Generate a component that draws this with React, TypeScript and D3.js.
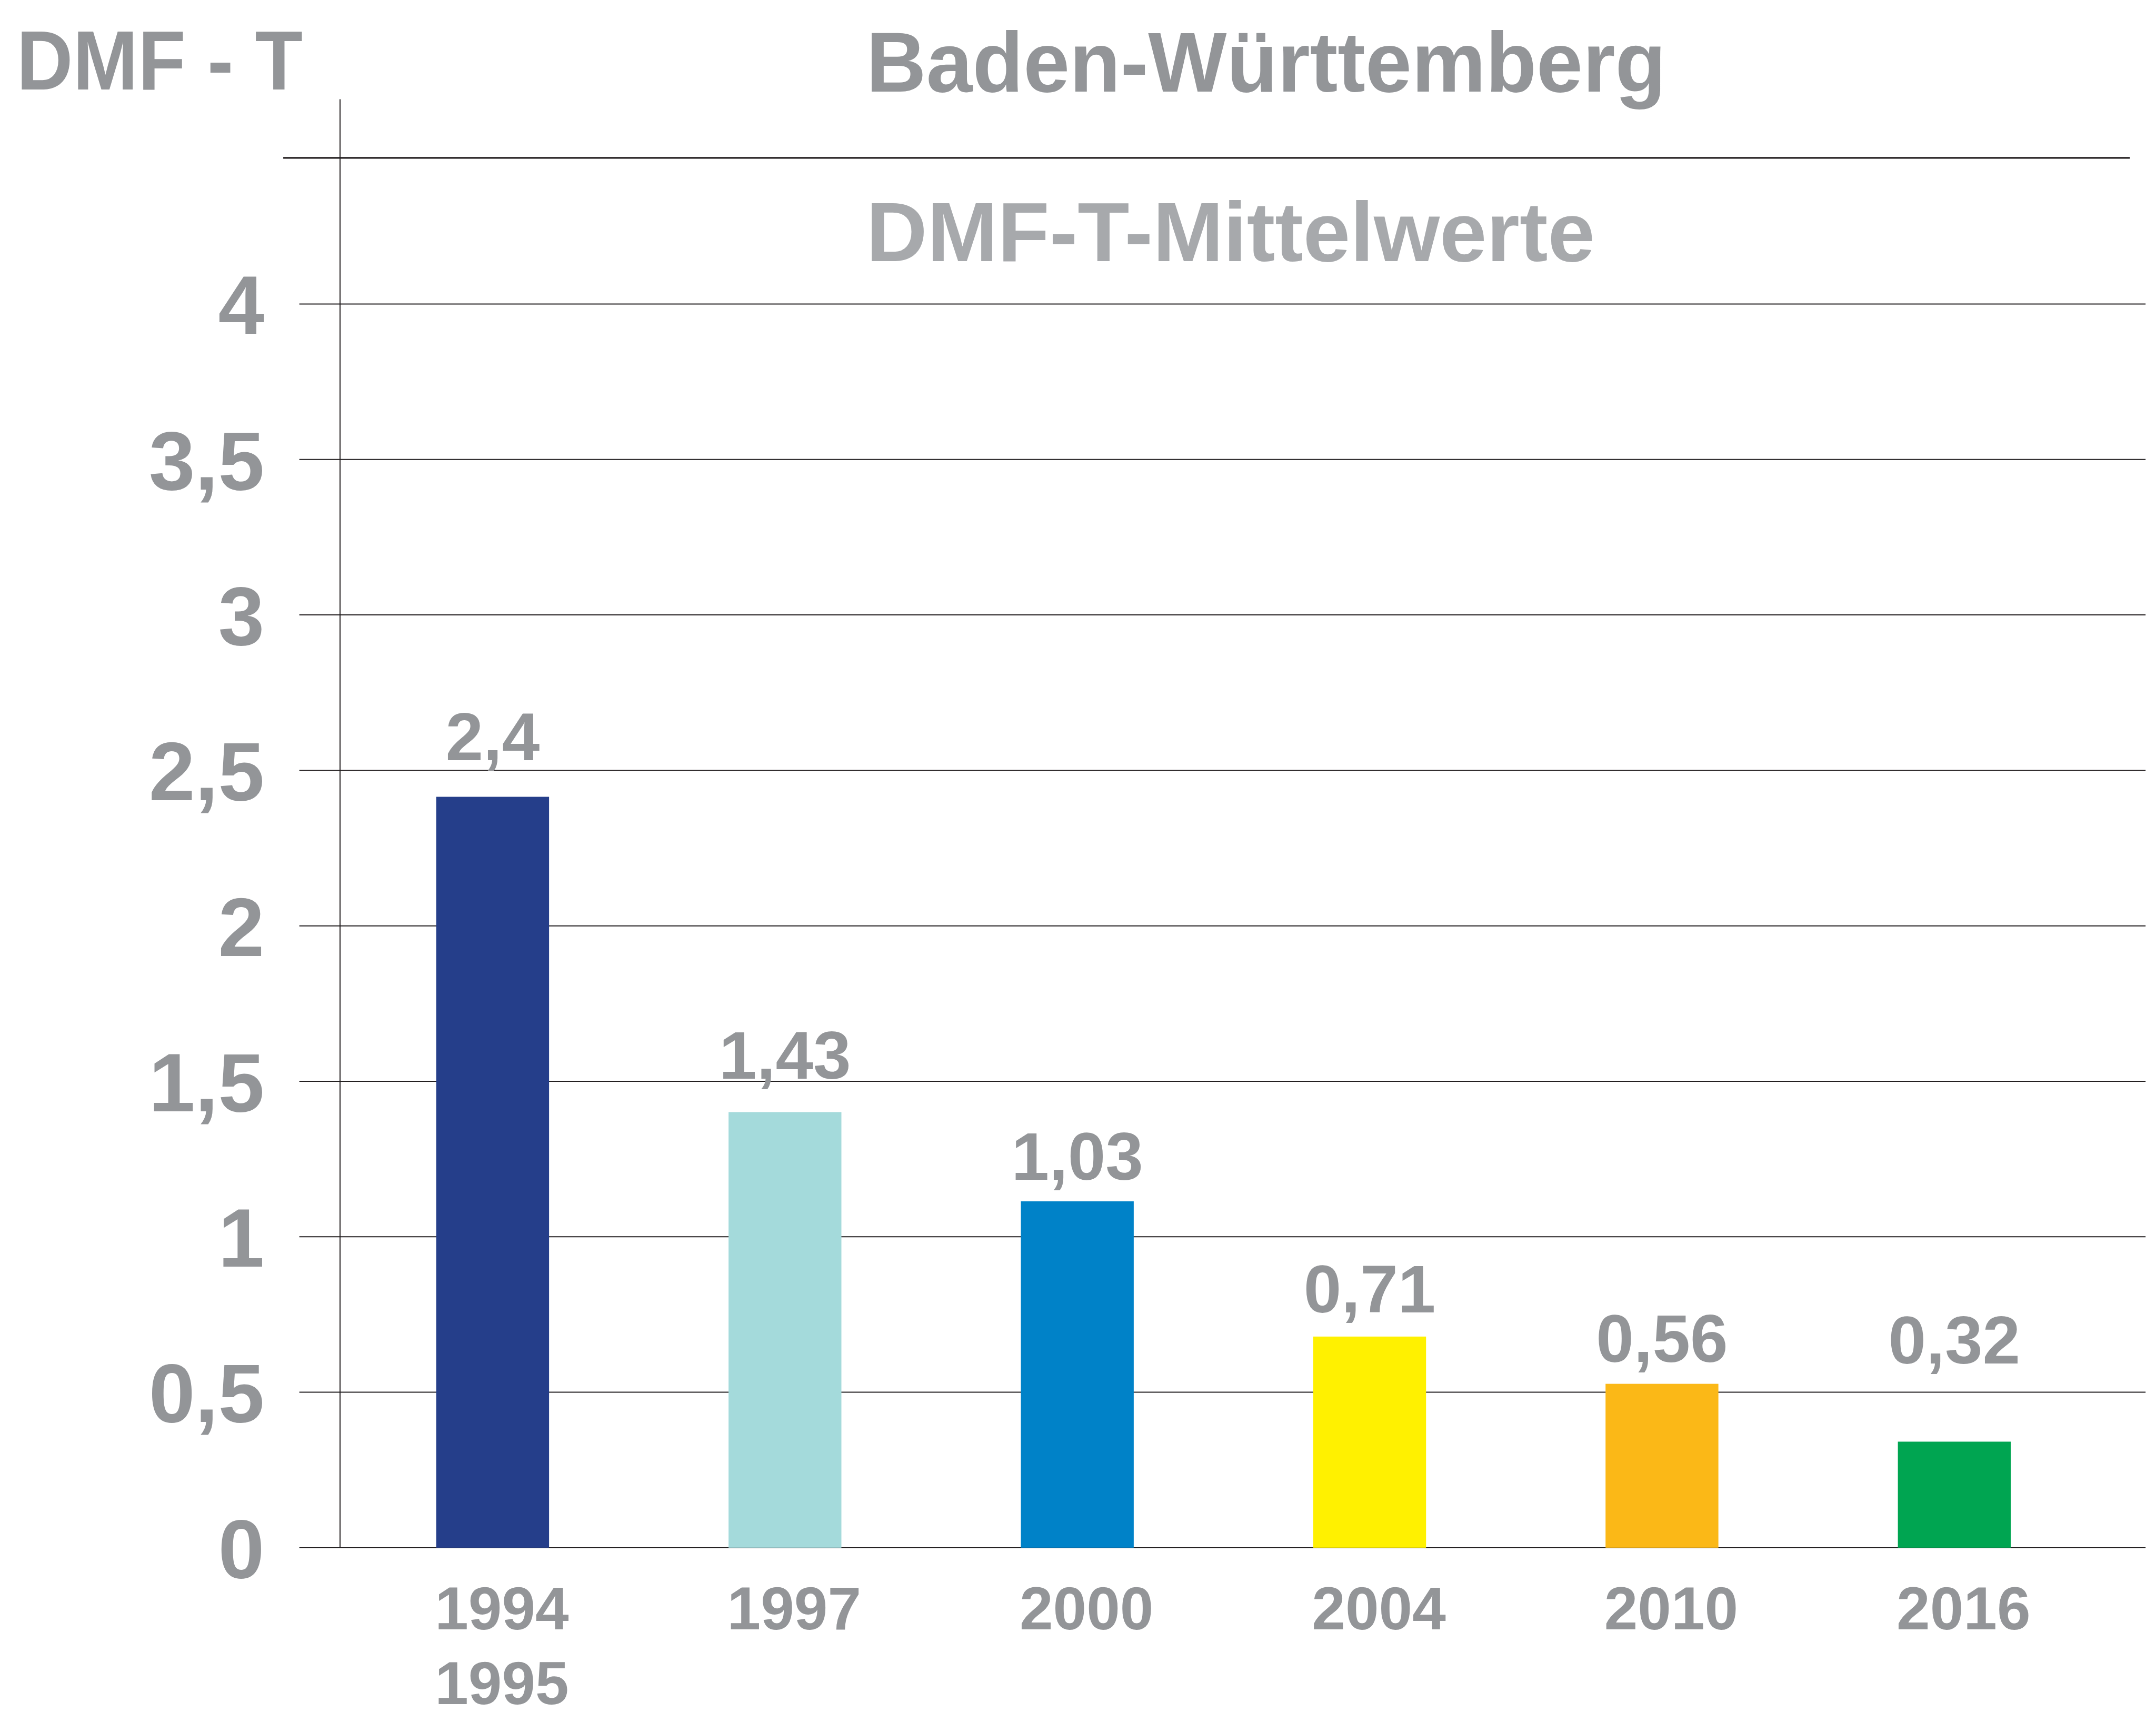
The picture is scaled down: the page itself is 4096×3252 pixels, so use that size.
import React from "react";
import * as d3 from "d3";

const years = ["1994", "1997", "2000", "2004", "2010", "2016"];
const yearSecondLine = ["1995", "", "", "", "", ""];
const barValues = [2.415, 1.401, 1.114, 0.679, 0.527, 0.341];
const valueLabels = ["2,4", "1,43", "1,03", "0,71", "0,56", "0,32"];
const labelLevels = [2.533, 1.509, 1.184, 0.756, 0.597, 0.593];
const barColors = ["#253e8a", "#a4dadb", "#0082c8", "#fff100", "#fbb817", "#00a551"];
const yTicks = [0, 0.5, 1, 1.5, 2, 2.5, 3, 3.5, 4];
const yTickLabels = ["0", "0,5", "1", "1,5", "2", "2,5", "3", "3,5", "4"];
const title = "Baden-Württemberg";
const subtitle = "DMF-T-Mittelwerte";
const axisTitle = "DMF - T";

const W = 6298;
const H = 5001;
const GRAY = "#939598";
const FONT = "'Liberation Sans', Arial, sans-serif";

export default function App() {
  const y = d3.scaleLinear().domain([0, 4]).range([4521, 888]);
  const x = d3
    .scaleBand<string>()
    .domain(years)
    .range([993, 6155])
    .paddingInner(0.614)
    .paddingOuter(0.329);
  const bw = x.bandwidth();

  return (
    <svg
      width={4096}
      height={3252}
      viewBox={`0 0 ${W} ${H}`}
      style={{ position: "absolute", left: 0, top: 0, background: "#fff" }}
    >
      <rect x={0} y={0} width={W} height={H} fill="#fff" />
      {/* header rule */}
      <line x1={827} x2={6222} y1={461} y2={461} stroke="#231f20" strokeWidth={5} />
      {/* gridlines */}
      {yTicks.map((t) => (
        <line key={t} x1={874} x2={6268} y1={y(t)} y2={y(t)} stroke="#231f20" strokeWidth={3} />
      ))}
      {/* vertical axis */}
      <line x1={993} x2={993} y1={290} y2={y(0)} stroke="#231f20" strokeWidth={3} />
      {/* tick labels */}
      {yTicks.map((t, i) => (
        <text
          key={"t" + t}
          x={772}
          y={y(t)}
          dy="0.36em"
          textAnchor="end"
          fontFamily={FONT}
          fontWeight="bold"
          fontSize={243}
          fill={GRAY}
        >
          {yTickLabels[i]}
        </text>
      ))}
      {/* bars */}
      {years.map((yr, i) => (
        <rect
          key={yr}
          x={x(yr)}
          y={y(barValues[i])}
          width={bw}
          height={y(0) - y(barValues[i])}
          fill={barColors[i]}
        />
      ))}
      {/* value labels */}
      {years.map((yr, i) => (
        <text
          key={"v" + yr}
          x={(x(yr) as number) + bw / 2}
          y={y(labelLevels[i])}
          textAnchor="middle"
          fontFamily={FONT}
          fontWeight="bold"
          fontSize={198}
          fill={GRAY}
        >
          {valueLabels[i]}
        </text>
      ))}
      {/* year labels */}
      {years.map((yr, i) => (
        <g key={"y" + yr}>
          <text
            x={(x(yr) as number) - 4}
            y={4760}
            fontFamily={FONT}
            fontWeight="bold"
            fontSize={176}
            fill={GRAY}
          >
            {yr}
          </text>
          {yearSecondLine[i] && (
            <text
              x={(x(yr) as number) - 4}
              y={4978}
              fontFamily={FONT}
              fontWeight="bold"
              fontSize={176}
              fill={GRAY}
            >
              {yearSecondLine[i]}
            </text>
          )}
        </g>
      ))}
      {/* titles */}
      <text x={48} y={261} fontFamily={FONT} fontWeight="bold" fontSize={245} fill={GRAY} textLength={836} lengthAdjust="spacingAndGlyphs">
        {axisTitle}
      </text>
      <text x={2530} y={268} fontFamily={FONT} fontWeight="bold" fontSize={248} fill={GRAY} textLength={2337} lengthAdjust="spacingAndGlyphs">
        {title}
      </text>
      <text x={2530} y={762} fontFamily={FONT} fontWeight="bold" fontSize={245} fill="#a7a9ac" textLength={2129} lengthAdjust="spacingAndGlyphs">
        {subtitle}
      </text>
    </svg>
  );
}
